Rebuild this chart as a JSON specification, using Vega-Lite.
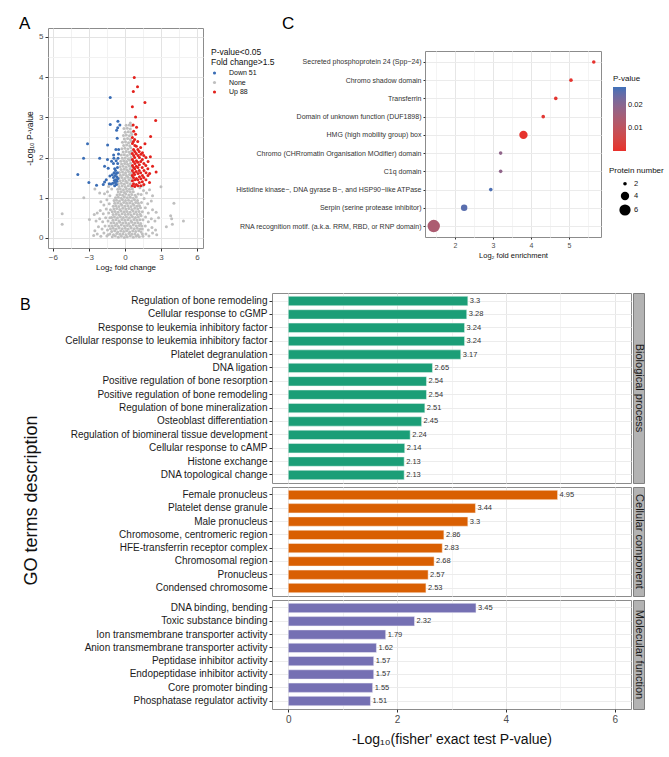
{
"$schema": "https://vega.github.io/schema/vega-lite/v6.json",
"background": "white",
"padding": {"left": 18, "top": 14, "right": 0, "bottom": 0},
"config": {
  "font": "Liberation Sans",
  "view": {"stroke": "#8c8c8c", "strokeWidth": 1},
  "axis": {"domain": false, "tickColor": "#333333", "tickSize": 3, "labelColor": "#4d4d4d", "titleColor": "#111111", "titleFontWeight": "normal", "gridColor": "#ebebeb", "grid": true, "labelFont": "Liberation Sans", "titleFont": "Liberation Sans", "labelLimit": 0},
  "legend": {"titleFontWeight": "normal", "titleColor": "#111111", "labelColor": "#111111", "titleFont": "Liberation Sans", "labelFont": "Liberation Sans"},
  "title": {"fontWeight": "normal", "color": "#000000", "font": "Liberation Sans"}
},
"datasets": {
"volcano": [
{"x":-1.05,"y":0.03,"g":"None"},{"x":-0.8,"y":0.05,"g":"None"},{"x":-0.55,"y":0.02,"g":"None"},{"x":-0.3,"y":0.04,"g":"None"},{"x":-0.05,"y":0.01,"g":"None"},{"x":0.2,"y":0.03,"g":"None"},{"x":0.45,"y":0.05,"g":"None"},{"x":0.7,"y":0.02,"g":"None"},{"x":0.95,"y":0.04,"g":"None"},{"x":1.2,"y":0.03,"g":"None"},
{"x":-1.25,"y":0.1,"g":"None"},{"x":-0.95,"y":0.08,"g":"None"},{"x":-0.68,"y":0.11,"g":"None"},{"x":-0.42,"y":0.09,"g":"None"},{"x":-0.17,"y":0.1,"g":"None"},{"x":0.08,"y":0.08,"g":"None"},{"x":0.33,"y":0.11,"g":"None"},{"x":0.58,"y":0.09,"g":"None"},{"x":0.83,"y":0.1,"g":"None"},{"x":1.08,"y":0.08,"g":"None"},
{"x":-1.1,"y":0.16,"g":"None"},{"x":-0.85,"y":0.18,"g":"None"},{"x":-0.6,"y":0.15,"g":"None"},{"x":-0.35,"y":0.17,"g":"None"},{"x":-0.1,"y":0.16,"g":"None"},{"x":0.15,"y":0.18,"g":"None"},{"x":0.4,"y":0.15,"g":"None"},{"x":0.65,"y":0.17,"g":"None"},{"x":0.9,"y":0.16,"g":"None"},{"x":1.15,"y":0.18,"g":"None"},{"x":1.35,"y":0.15,"g":"None"},
{"x":-1.2,"y":0.23,"g":"None"},{"x":-0.97,"y":0.24,"g":"None"},{"x":-0.72,"y":0.22,"g":"None"},{"x":-0.47,"y":0.25,"g":"None"},{"x":-0.22,"y":0.23,"g":"None"},{"x":0.03,"y":0.24,"g":"None"},{"x":0.28,"y":0.22,"g":"None"},{"x":0.53,"y":0.25,"g":"None"},{"x":0.78,"y":0.23,"g":"None"},{"x":1.03,"y":0.24,"g":"None"},{"x":1.28,"y":0.22,"g":"None"},
{"x":-1.05,"y":0.3,"g":"None"},{"x":-0.8,"y":0.31,"g":"None"},{"x":-0.55,"y":0.29,"g":"None"},{"x":-0.3,"y":0.32,"g":"None"},{"x":-0.05,"y":0.3,"g":"None"},{"x":0.2,"y":0.31,"g":"None"},{"x":0.45,"y":0.29,"g":"None"},{"x":0.7,"y":0.32,"g":"None"},{"x":0.95,"y":0.3,"g":"None"},{"x":1.2,"y":0.31,"g":"None"},
{"x":-1.15,"y":0.37,"g":"None"},{"x":-0.92,"y":0.38,"g":"None"},{"x":-0.67,"y":0.36,"g":"None"},{"x":-0.42,"y":0.39,"g":"None"},{"x":-0.17,"y":0.37,"g":"None"},{"x":0.08,"y":0.38,"g":"None"},{"x":0.33,"y":0.36,"g":"None"},{"x":0.58,"y":0.39,"g":"None"},{"x":0.83,"y":0.37,"g":"None"},{"x":1.08,"y":0.38,"g":"None"},{"x":1.32,"y":0.36,"g":"None"},
{"x":-1.0,"y":0.44,"g":"None"},{"x":-0.75,"y":0.45,"g":"None"},{"x":-0.5,"y":0.43,"g":"None"},{"x":-0.25,"y":0.46,"g":"None"},{"x":0.0,"y":0.44,"g":"None"},{"x":0.25,"y":0.45,"g":"None"},{"x":0.5,"y":0.43,"g":"None"},{"x":0.75,"y":0.46,"g":"None"},{"x":1.0,"y":0.44,"g":"None"},{"x":1.25,"y":0.45,"g":"None"},
{"x":-1.1,"y":0.51,"g":"None"},{"x":-0.87,"y":0.52,"g":"None"},{"x":-0.62,"y":0.5,"g":"None"},{"x":-0.37,"y":0.53,"g":"None"},{"x":-0.12,"y":0.51,"g":"None"},{"x":0.13,"y":0.52,"g":"None"},{"x":0.38,"y":0.5,"g":"None"},{"x":0.63,"y":0.53,"g":"None"},{"x":0.88,"y":0.51,"g":"None"},{"x":1.12,"y":0.52,"g":"None"},
{"x":-0.98,"y":0.58,"g":"None"},{"x":-0.73,"y":0.59,"g":"None"},{"x":-0.48,"y":0.57,"g":"None"},{"x":-0.23,"y":0.6,"g":"None"},{"x":0.02,"y":0.58,"g":"None"},{"x":0.27,"y":0.59,"g":"None"},{"x":0.52,"y":0.57,"g":"None"},{"x":0.77,"y":0.6,"g":"None"},{"x":1.02,"y":0.58,"g":"None"},{"x":1.27,"y":0.59,"g":"None"},
{"x":-1.05,"y":0.65,"g":"None"},{"x":-0.82,"y":0.66,"g":"None"},{"x":-0.57,"y":0.64,"g":"None"},{"x":-0.32,"y":0.67,"g":"None"},{"x":-0.07,"y":0.65,"g":"None"},{"x":0.18,"y":0.66,"g":"None"},{"x":0.43,"y":0.64,"g":"None"},{"x":0.68,"y":0.67,"g":"None"},{"x":0.93,"y":0.65,"g":"None"},{"x":1.18,"y":0.66,"g":"None"},
{"x":-0.92,"y":0.72,"g":"None"},{"x":-0.68,"y":0.73,"g":"None"},{"x":-0.43,"y":0.71,"g":"None"},{"x":-0.18,"y":0.74,"g":"None"},{"x":0.07,"y":0.72,"g":"None"},{"x":0.32,"y":0.73,"g":"None"},{"x":0.57,"y":0.71,"g":"None"},{"x":0.82,"y":0.74,"g":"None"},{"x":1.07,"y":0.72,"g":"None"},
{"x":-0.97,"y":0.79,"g":"None"},{"x":-0.75,"y":0.8,"g":"None"},{"x":-0.5,"y":0.78,"g":"None"},{"x":-0.25,"y":0.81,"g":"None"},{"x":0.0,"y":0.79,"g":"None"},{"x":0.25,"y":0.8,"g":"None"},{"x":0.5,"y":0.78,"g":"None"},{"x":0.75,"y":0.81,"g":"None"},{"x":1.0,"y":0.79,"g":"None"},{"x":1.22,"y":0.8,"g":"None"},
{"x":-0.85,"y":0.86,"g":"None"},{"x":-0.6,"y":0.87,"g":"None"},{"x":-0.35,"y":0.85,"g":"None"},{"x":-0.1,"y":0.88,"g":"None"},{"x":0.15,"y":0.86,"g":"None"},{"x":0.4,"y":0.87,"g":"None"},{"x":0.65,"y":0.85,"g":"None"},{"x":0.9,"y":0.88,"g":"None"},{"x":1.12,"y":0.86,"g":"None"},
{"x":-0.9,"y":0.93,"g":"None"},{"x":-0.7,"y":0.94,"g":"None"},{"x":-0.45,"y":0.92,"g":"None"},{"x":-0.2,"y":0.95,"g":"None"},{"x":0.05,"y":0.93,"g":"None"},{"x":0.3,"y":0.94,"g":"None"},{"x":0.55,"y":0.92,"g":"None"},{"x":0.8,"y":0.95,"g":"None"},{"x":1.05,"y":0.93,"g":"None"},
{"x":-0.78,"y":1.0,"g":"None"},{"x":-0.55,"y":1.01,"g":"None"},{"x":-0.3,"y":0.99,"g":"None"},{"x":-0.05,"y":1.02,"g":"None"},{"x":0.2,"y":1.0,"g":"None"},{"x":0.45,"y":1.01,"g":"None"},{"x":0.7,"y":0.99,"g":"None"},{"x":0.95,"y":1.02,"g":"None"},
{"x":-0.65,"y":1.07,"g":"None"},{"x":-0.42,"y":1.08,"g":"None"},{"x":-0.18,"y":1.06,"g":"None"},{"x":0.07,"y":1.09,"g":"None"},{"x":0.32,"y":1.07,"g":"None"},{"x":0.57,"y":1.08,"g":"None"},{"x":0.85,"y":1.06,"g":"None"},{"x":1.1,"y":1.09,"g":"None"},
{"x":-0.55,"y":1.14,"g":"None"},{"x":-0.3,"y":1.15,"g":"None"},{"x":-0.05,"y":1.13,"g":"None"},{"x":0.2,"y":1.16,"g":"None"},{"x":0.45,"y":1.14,"g":"None"},{"x":0.7,"y":1.15,"g":"None"},
{"x":-0.6,"y":1.21,"g":"None"},{"x":-0.38,"y":1.22,"g":"None"},{"x":-0.12,"y":1.2,"g":"None"},{"x":0.12,"y":1.23,"g":"None"},{"x":0.38,"y":1.21,"g":"None"},{"x":0.62,"y":1.22,"g":"None"},
{"x":-0.48,"y":1.28,"g":"None"},{"x":-0.22,"y":1.29,"g":"None"},{"x":0.03,"y":1.27,"g":"None"},{"x":0.28,"y":1.3,"g":"None"},{"x":0.52,"y":1.28,"g":"None"},
{"x":-0.55,"y":1.35,"g":"None"},{"x":-0.3,"y":1.36,"g":"None"},{"x":-0.05,"y":1.34,"g":"None"},{"x":0.2,"y":1.37,"g":"None"},{"x":0.45,"y":1.35,"g":"None"},
{"x":-0.42,"y":1.42,"g":"None"},{"x":-0.17,"y":1.43,"g":"None"},{"x":0.08,"y":1.41,"g":"None"},{"x":0.33,"y":1.44,"g":"None"},{"x":0.55,"y":1.42,"g":"None"},
{"x":-0.5,"y":1.49,"g":"None"},{"x":-0.25,"y":1.5,"g":"None"},{"x":0.0,"y":1.48,"g":"None"},{"x":0.25,"y":1.51,"g":"None"},{"x":0.48,"y":1.49,"g":"None"},
{"x":-0.38,"y":1.56,"g":"None"},{"x":-0.12,"y":1.57,"g":"None"},{"x":0.13,"y":1.55,"g":"None"},{"x":0.38,"y":1.58,"g":"None"},{"x":0.58,"y":1.56,"g":"None"},
{"x":-0.45,"y":1.63,"g":"None"},{"x":-0.2,"y":1.64,"g":"None"},{"x":0.05,"y":1.62,"g":"None"},{"x":0.3,"y":1.65,"g":"None"},{"x":0.52,"y":1.63,"g":"None"},
{"x":-0.32,"y":1.7,"g":"None"},{"x":-0.07,"y":1.71,"g":"None"},{"x":0.18,"y":1.69,"g":"None"},{"x":0.43,"y":1.72,"g":"None"},
{"x":-0.4,"y":1.77,"g":"None"},{"x":-0.15,"y":1.78,"g":"None"},{"x":0.1,"y":1.76,"g":"None"},{"x":0.35,"y":1.79,"g":"None"},{"x":0.55,"y":1.77,"g":"None"},
{"x":-0.28,"y":1.84,"g":"None"},{"x":-0.02,"y":1.85,"g":"None"},{"x":0.22,"y":1.83,"g":"None"},{"x":0.47,"y":1.86,"g":"None"},
{"x":-0.35,"y":1.91,"g":"None"},{"x":-0.1,"y":1.92,"g":"None"},{"x":0.15,"y":1.9,"g":"None"},{"x":0.4,"y":1.93,"g":"None"},
{"x":-0.22,"y":1.98,"g":"None"},{"x":0.03,"y":1.99,"g":"None"},{"x":0.28,"y":1.97,"g":"None"},{"x":0.5,"y":2.0,"g":"None"},
{"x":-0.3,"y":2.06,"g":"None"},{"x":-0.05,"y":2.07,"g":"None"},{"x":0.2,"y":2.05,"g":"None"},{"x":0.45,"y":2.08,"g":"None"},
{"x":-0.15,"y":2.14,"g":"None"},{"x":0.1,"y":2.15,"g":"None"},{"x":0.35,"y":2.13,"g":"None"},{"x":0.55,"y":2.16,"g":"None"},
{"x":-0.25,"y":2.22,"g":"None"},{"x":0.0,"y":2.23,"g":"None"},{"x":0.25,"y":2.21,"g":"None"},{"x":0.48,"y":2.24,"g":"None"},
{"x":-0.1,"y":2.3,"g":"None"},{"x":0.15,"y":2.31,"g":"None"},{"x":0.4,"y":2.29,"g":"None"},
{"x":-0.2,"y":2.38,"g":"None"},{"x":0.05,"y":2.39,"g":"None"},{"x":0.3,"y":2.37,"g":"None"},{"x":0.52,"y":2.4,"g":"None"},
{"x":-0.05,"y":2.46,"g":"None"},{"x":0.22,"y":2.47,"g":"None"},{"x":0.45,"y":2.45,"g":"None"},
{"x":-0.12,"y":2.55,"g":"None"},{"x":0.12,"y":2.56,"g":"None"},{"x":0.38,"y":2.54,"g":"None"},{"x":0.58,"y":2.57,"g":"None"},
{"x":0.02,"y":2.63,"g":"None"},{"x":0.28,"y":2.64,"g":"None"},{"x":0.5,"y":2.62,"g":"None"},
{"x":-0.08,"y":2.72,"g":"None"},{"x":0.2,"y":2.73,"g":"None"},{"x":0.45,"y":2.71,"g":"None"},
{"x":0.1,"y":2.8,"g":"None"},{"x":0.36,"y":2.81,"g":"None"},{"x":0.55,"y":2.79,"g":"None"},{"x":0.45,"y":2.86,"g":"None"},
{"x":-1.5,"y":0.05,"g":"None"},{"x":-1.75,"y":0.12,"g":"None"},{"x":-2.0,"y":0.04,"g":"None"},{"x":-2.3,"y":0.1,"g":"None"},{"x":-2.6,"y":0.06,"g":"None"},{"x":-1.45,"y":0.2,"g":"None"},{"x":-1.65,"y":0.3,"g":"None"},{"x":-1.9,"y":0.22,"g":"None"},{"x":-2.2,"y":0.28,"g":"None"},{"x":-2.5,"y":0.18,"g":"None"},
{"x":-1.4,"y":0.42,"g":"None"},{"x":-1.6,"y":0.5,"g":"None"},{"x":-1.85,"y":0.4,"g":"None"},{"x":-2.1,"y":0.48,"g":"None"},{"x":-2.4,"y":0.42,"g":"None"},{"x":-2.95,"y":0.46,"g":"None"},{"x":-1.35,"y":0.62,"g":"None"},{"x":-1.55,"y":0.72,"g":"None"},{"x":-1.8,"y":0.6,"g":"None"},{"x":-2.05,"y":0.68,"g":"None"},
{"x":-2.3,"y":0.62,"g":"None"},{"x":-2.55,"y":0.58,"g":"None"},{"x":-1.3,"y":0.85,"g":"None"},{"x":-1.5,"y":0.95,"g":"None"},{"x":-1.75,"y":0.82,"g":"None"},{"x":-2.0,"y":0.9,"g":"None"},{"x":-1.25,"y":1.05,"g":"None"},{"x":-1.45,"y":1.15,"g":"None"},{"x":-1.7,"y":1.1,"g":"None"},{"x":-2.1,"y":1.12,"g":"None"},
{"x":-2.5,"y":1.22,"g":"None"},{"x":-1.1,"y":1.22,"g":"None"},{"x":-1.35,"y":1.28,"g":"None"},{"x":-3.42,"y":1.0,"g":"None"},{"x":-1.3,"y":0.3,"g":"None"},{"x":-1.4,"y":0.08,"g":"None"},{"x":-1.25,"y":0.5,"g":"None"},{"x":-1.2,"y":0.7,"g":"None"},
{"x":1.5,"y":0.04,"g":"None"},{"x":1.75,"y":0.1,"g":"None"},{"x":2.0,"y":0.05,"g":"None"},{"x":2.3,"y":0.12,"g":"None"},{"x":2.65,"y":0.08,"g":"None"},{"x":1.45,"y":0.22,"g":"None"},{"x":1.7,"y":0.3,"g":"None"},{"x":1.95,"y":0.2,"g":"None"},{"x":2.25,"y":0.26,"g":"None"},{"x":2.55,"y":0.2,"g":"None"},
{"x":1.5,"y":0.45,"g":"None"},{"x":1.72,"y":0.52,"g":"None"},{"x":1.95,"y":0.4,"g":"None"},{"x":2.2,"y":0.48,"g":"None"},{"x":2.5,"y":0.42,"g":"None"},{"x":2.8,"y":0.5,"g":"None"},{"x":1.45,"y":0.65,"g":"None"},{"x":1.7,"y":0.75,"g":"None"},{"x":1.95,"y":0.62,"g":"None"},{"x":2.3,"y":0.7,"g":"None"},
{"x":2.6,"y":0.64,"g":"None"},{"x":1.38,"y":0.88,"g":"None"},{"x":1.6,"y":0.98,"g":"None"},{"x":1.9,"y":0.85,"g":"None"},{"x":2.2,"y":0.92,"g":"None"},{"x":1.35,"y":1.08,"g":"None"},{"x":1.55,"y":1.18,"g":"None"},{"x":1.8,"y":1.12,"g":"None"},{"x":2.05,"y":1.2,"g":"None"},{"x":2.3,"y":1.05,"g":"None"},
{"x":3.0,"y":1.27,"g":"None"},{"x":1.25,"y":1.25,"g":"None"},{"x":1.5,"y":1.3,"g":"None"},{"x":1.4,"y":0.3,"g":"None"},{"x":1.45,"y":0.1,"g":"None"},{"x":1.35,"y":0.55,"g":"None"},{"x":1.3,"y":0.75,"g":"None"},
{"x":-5.22,"y":0.6,"g":"None"},{"x":-5.22,"y":0.34,"g":"None"},{"x":4.08,"y":0.86,"g":"None"},{"x":3.81,"y":0.55,"g":"None"},{"x":3.89,"y":0.48,"g":"None"},{"x":4.87,"y":0.42,"g":"None"},{"x":3.45,"y":0.28,"g":"None"},{"x":3.95,"y":0.34,"g":"None"},
{"x":-1.22,"y":3.49,"g":"Down 51"},{"x":-0.58,"y":2.9,"g":"Down 51"},{"x":-1.22,"y":2.82,"g":"Down 51"},{"x":-0.69,"y":2.68,"g":"Down 51"},{"x":-0.6,"y":2.74,"g":"Down 51"},{"x":-0.64,"y":2.48,"g":"Down 51"},{"x":-3.11,"y":2.34,"g":"Down 51"},{"x":-1.44,"y":2.31,"g":"Down 51"},{"x":-3.44,"y":1.98,"g":"Down 51"},{"x":-2.1,"y":1.98,"g":"Down 51"},
{"x":-0.94,"y":2.06,"g":"Down 51"},{"x":-0.53,"y":2.09,"g":"Down 51"},{"x":-1.11,"y":1.91,"g":"Down 51"},{"x":-0.73,"y":1.92,"g":"Down 51"},{"x":-1.69,"y":1.78,"g":"Down 51"},{"x":-1.39,"y":1.73,"g":"Down 51"},{"x":-3.92,"y":1.58,"g":"Down 51"},{"x":-3.0,"y":1.38,"g":"Down 51"},{"x":-2.36,"y":1.31,"g":"Down 51"},{"x":-1.69,"y":1.39,"g":"Down 51"},
{"x":-1.3,"y":1.35,"g":"Down 51"},{"x":-1.15,"y":1.34,"g":"Down 51"},{"x":-1.0,"y":1.36,"g":"Down 51"},{"x":-0.85,"y":1.72,"g":"Down 51"},{"x":-0.78,"y":1.68,"g":"Down 51"},{"x":-0.9,"y":1.62,"g":"Down 51"},{"x":-0.72,"y":1.6,"g":"Down 51"},{"x":-0.82,"y":1.55,"g":"Down 51"},{"x":-0.68,"y":1.52,"g":"Down 51"},{"x":-0.95,"y":1.5,"g":"Down 51"},
{"x":-0.75,"y":1.45,"g":"Down 51"},{"x":-0.88,"y":1.43,"g":"Down 51"},{"x":-0.66,"y":1.41,"g":"Down 51"},{"x":-0.8,"y":1.38,"g":"Down 51"},{"x":-0.7,"y":1.33,"g":"Down 51"},{"x":-1.05,"y":1.57,"g":"Down 51"},{"x":-1.25,"y":1.54,"g":"Down 51"},{"x":-0.6,"y":1.85,"g":"Down 51"},{"x":-0.57,"y":1.98,"g":"Down 51"},{"x":-0.52,"y":2.2,"g":"Down 51"},
{"x":-0.95,"y":1.85,"g":"Down 51"},{"x":-1.55,"y":1.45,"g":"Down 51"},{"x":-0.62,"y":1.75,"g":"Down 51"},{"x":-0.58,"y":1.48,"g":"Down 51"},{"x":-0.92,"y":1.98,"g":"Down 51"},{"x":-0.75,"y":2.2,"g":"Down 51"},{"x":-0.42,"y":2.81,"g":"Down 51"},{"x":-0.85,"y":1.3,"g":"Down 51"},{"x":-1.45,"y":1.95,"g":"Down 51"},{"x":-1.8,"y":1.33,"g":"Down 51"},
{"x":-0.62,"y":1.62,"g":"Down 51"},
{"x":0.78,"y":3.99,"g":"Up 88"},{"x":1.05,"y":3.76,"g":"Up 88"},{"x":0.7,"y":3.64,"g":"Up 88"},{"x":0.62,"y":3.26,"g":"Up 88"},{"x":1.67,"y":3.37,"g":"Up 88"},{"x":2.56,"y":2.92,"g":"Up 88"},{"x":0.89,"y":3.01,"g":"Up 88"},{"x":2.14,"y":2.52,"g":"Up 88"},{"x":1.67,"y":2.34,"g":"Up 88"},{"x":2.12,"y":2.02,"g":"Up 88"},
{"x":2.6,"y":1.64,"g":"Up 88"},{"x":0.69,"y":2.81,"g":"Up 88"},{"x":0.89,"y":2.58,"g":"Up 88"},
{"x":0.62,"y":1.3,"g":"Up 88"},{"x":0.63,"y":1.42,"g":"Up 88"},{"x":0.61,"y":1.55,"g":"Up 88"},{"x":0.62,"y":1.68,"g":"Up 88"},{"x":0.63,"y":1.8,"g":"Up 88"},{"x":0.62,"y":1.95,"g":"Up 88"},{"x":0.61,"y":2.1,"g":"Up 88"},{"x":0.63,"y":2.35,"g":"Up 88"},{"x":0.62,"y":2.5,"g":"Up 88"},
{"x":0.72,"y":1.35,"g":"Up 88"},{"x":0.71,"y":1.5,"g":"Up 88"},{"x":0.73,"y":1.62,"g":"Up 88"},{"x":0.72,"y":1.75,"g":"Up 88"},{"x":0.71,"y":1.9,"g":"Up 88"},{"x":0.73,"y":2.05,"g":"Up 88"},{"x":0.72,"y":2.2,"g":"Up 88"},{"x":0.71,"y":2.4,"g":"Up 88"},{"x":0.73,"y":2.65,"g":"Up 88"},
{"x":0.82,"y":1.28,"g":"Up 88"},{"x":0.83,"y":1.45,"g":"Up 88"},{"x":0.81,"y":1.58,"g":"Up 88"},{"x":0.82,"y":1.72,"g":"Up 88"},{"x":0.83,"y":1.85,"g":"Up 88"},{"x":0.81,"y":2.0,"g":"Up 88"},{"x":0.82,"y":2.15,"g":"Up 88"},{"x":0.83,"y":2.3,"g":"Up 88"},{"x":0.81,"y":2.45,"g":"Up 88"},
{"x":0.95,"y":1.33,"g":"Up 88"},{"x":0.96,"y":1.48,"g":"Up 88"},{"x":0.94,"y":1.65,"g":"Up 88"},{"x":0.95,"y":1.78,"g":"Up 88"},{"x":0.96,"y":1.92,"g":"Up 88"},{"x":0.94,"y":2.1,"g":"Up 88"},{"x":0.95,"y":2.28,"g":"Up 88"},{"x":0.97,"y":2.75,"g":"Up 88"},
{"x":1.08,"y":1.3,"g":"Up 88"},{"x":1.07,"y":1.45,"g":"Up 88"},{"x":1.09,"y":1.6,"g":"Up 88"},{"x":1.08,"y":1.75,"g":"Up 88"},{"x":1.07,"y":1.88,"g":"Up 88"},{"x":1.09,"y":2.05,"g":"Up 88"},{"x":1.08,"y":2.2,"g":"Up 88"},{"x":1.07,"y":2.4,"g":"Up 88"},
{"x":1.2,"y":1.38,"g":"Up 88"},{"x":1.21,"y":1.52,"g":"Up 88"},{"x":1.19,"y":1.68,"g":"Up 88"},{"x":1.2,"y":1.82,"g":"Up 88"},{"x":1.21,"y":2.0,"g":"Up 88"},{"x":1.19,"y":2.15,"g":"Up 88"},
{"x":1.32,"y":1.3,"g":"Up 88"},{"x":1.33,"y":1.47,"g":"Up 88"},{"x":1.31,"y":1.62,"g":"Up 88"},{"x":1.32,"y":1.9,"g":"Up 88"},{"x":1.33,"y":2.08,"g":"Up 88"},{"x":1.31,"y":2.25,"g":"Up 88"},
{"x":1.45,"y":1.4,"g":"Up 88"},{"x":1.46,"y":1.55,"g":"Up 88"},{"x":1.44,"y":1.75,"g":"Up 88"},{"x":1.45,"y":1.95,"g":"Up 88"},{"x":1.46,"y":2.12,"g":"Up 88"},
{"x":1.58,"y":1.33,"g":"Up 88"},{"x":1.57,"y":1.5,"g":"Up 88"},{"x":1.59,"y":1.68,"g":"Up 88"},{"x":1.58,"y":1.85,"g":"Up 88"},{"x":1.57,"y":2.05,"g":"Up 88"},
{"x":1.75,"y":1.45,"g":"Up 88"},{"x":1.76,"y":1.62,"g":"Up 88"},{"x":1.74,"y":1.8,"g":"Up 88"},{"x":1.75,"y":2.0,"g":"Up 88"},
{"x":1.92,"y":1.55,"g":"Up 88"},{"x":1.91,"y":1.72,"g":"Up 88"},{"x":1.93,"y":1.9,"g":"Up 88"},
{"x":2.05,"y":1.38,"g":"Up 88"},{"x":2.06,"y":1.6,"g":"Up 88"},{"x":2.3,"y":1.78,"g":"Up 88"}
],
"domains": [
{"d":"Secreted phosphoprotein 24 (Spp−24)","e":5.65,"p":0.0004,"n":2},
{"d":"Chromo shadow domain","e":5.05,"p":0.0008,"n":2},
{"d":"Transferrin","e":4.65,"p":0.0012,"n":2},
{"d":"Domain of unknown function (DUF1898)","e":4.32,"p":0.0015,"n":2},
{"d":"HMG (high mobility group) box","e":3.8,"p":0.0006,"n":4},
{"d":"Chromo (CHRromatin Organisation MOdifier) domain","e":3.2,"p":0.019,"n":2},
{"d":"C1q domain","e":3.2,"p":0.019,"n":2},
{"d":"Histidine kinase−, DNA gyrase B−, and HSP90−like ATPase","e":2.94,"p":0.027,"n":2},
{"d":"Serpin (serine protease inhibitor)","e":2.24,"p":0.026,"n":3},
{"d":"RNA recognition motif. (a.k.a. RRM, RBD, or RNP domain)","e":1.44,"p":0.014,"n":7}
],
"go": [
{"t":"Regulation of bone remodeling","v":3.3,"c":"BP"},
{"t":"Cellular response to cGMP","v":3.28,"c":"BP"},
{"t":"Response to leukemia inhibitory factor","v":3.24,"c":"BP"},
{"t":"Cellular response to leukemia inhibitory factor","v":3.24,"c":"BP"},
{"t":"Platelet degranulation","v":3.17,"c":"BP"},
{"t":"DNA ligation","v":2.65,"c":"BP"},
{"t":"Positive regulation of bone resorption","v":2.54,"c":"BP"},
{"t":"Positive regulation of bone remodeling","v":2.54,"c":"BP"},
{"t":"Regulation of bone mineralization","v":2.51,"c":"BP"},
{"t":"Osteoblast differentiation","v":2.45,"c":"BP"},
{"t":"Regulation of biomineral tissue development","v":2.24,"c":"BP"},
{"t":"Cellular response to cAMP","v":2.14,"c":"BP"},
{"t":"Histone exchange","v":2.13,"c":"BP"},
{"t":"DNA topological change","v":2.13,"c":"BP"},
{"t":"Female pronucleus","v":4.95,"c":"CC"},
{"t":"Platelet dense granule","v":3.44,"c":"CC"},
{"t":"Male pronucleus","v":3.3,"c":"CC"},
{"t":"Chromosome, centromeric region","v":2.86,"c":"CC"},
{"t":"HFE-transferrin receptor complex","v":2.83,"c":"CC"},
{"t":"Chromosomal region","v":2.68,"c":"CC"},
{"t":"Pronucleus","v":2.57,"c":"CC"},
{"t":"Condensed chromosome","v":2.53,"c":"CC"},
{"t":"DNA binding, bending","v":3.45,"c":"MF"},
{"t":"Toxic substance binding","v":2.32,"c":"MF"},
{"t":"Ion transmembrane transporter activity","v":1.79,"c":"MF"},
{"t":"Anion transmembrane transporter activity","v":1.62,"c":"MF"},
{"t":"Peptidase inhibitor activity","v":1.57,"c":"MF"},
{"t":"Endopeptidase inhibitor activity","v":1.57,"c":"MF"},
{"t":"Core promoter binding","v":1.55,"c":"MF"},
{"t":"Phosphatase regulator activity","v":1.51,"c":"MF"}
]
},
"vconcat": [
{
 "hconcat": [
  {
   "width": 155, "height": 220,
   "title": {"text": "A", "anchor": "start", "frame": "group", "dx": -29, "offset": -5, "fontSize": 17},
   "data": {"name": "volcano"},
   "mark": {"type": "circle", "size": 9, "opacity": 1},
   "encoding": {
    "x": {"field": "x", "type": "quantitative", "scale": {"domain": [-6.4, 6.5], "nice": false, "zero": false},
          "axis": {"title": "Log₂ fold change", "values": [-6,-4.5,-3,-1.5,0,1.5,3,4.5,6], "labelExpr": "datum.value % 3 === 0 ? format(datum.value, 'd') : ''",
                   "tickOpacity": {"condition": {"test": "datum.value % 3 === 0", "value": 1}, "value": 0},
                   "gridColor": {"condition": {"test": "datum.value % 3 === 0", "value": "#e3e3e3"}, "value": "#f2f2f2"},
                   "labelFontSize": 8, "titleFontSize": 8, "labelPadding": 2, "titlePadding": 2}},
    "y": {"field": "y", "type": "quantitative", "scale": {"domain": [-0.25, 5.22], "nice": false, "zero": false},
          "axis": {"title": "-Log₁₀ P-value", "values": [0,0.5,1,1.5,2,2.5,3,3.5,4,4.5,5], "labelExpr": "datum.value % 1 === 0 ? format(datum.value, 'd') : ''",
                   "tickOpacity": {"condition": {"test": "datum.value % 1 === 0", "value": 1}, "value": 0},
                   "gridColor": {"condition": {"test": "datum.value % 1 === 0", "value": "#e3e3e3"}, "value": "#f2f2f2"},
                   "labelFontSize": 8, "titleFontSize": 8.5, "labelPadding": 2, "titlePadding": 4}},
    "color": {"field": "g", "type": "nominal", "scale": {"domain": ["Down 51", "None", "Up 88"], "range": ["#3a6db5", "#bfbfbf", "#e3211c"]},
              "legend": {"title": ["P-value<0.05", "Fold change>1.5"], "orient": "none", "legendX": 163, "legendY": 20, "titleFontSize": 8.5, "titleLineHeight": 10, "labelFontSize": 7, "symbolSize": 10, "symbolType": "circle", "rowPadding": 1.5, "labelOffset": 11, "titlePadding": 3}}
   }
  },
  {
   "vconcat": [
    {
     "width": 176, "height": 23,
     "data": {"values": [{"s": ""}]},
     "mark": {"type": "text"},
     "encoding": {"text": {"field": "s", "type": "nominal"}},
     "view": {"stroke": null}
    },
    {
     "width": 176, "height": 186,
     "title": {"text": "C", "anchor": "start", "frame": "group", "dx": -143, "offset": 18, "fontSize": 17},
     "data": {"name": "domains"},
     "mark": {"type": "circle", "opacity": 1},
     "encoding": {
      "y": {"field": "d", "type": "nominal", "sort": null, "scale": {"type": "point", "padding": 0.6},
            "axis": {"title": null, "labelFontSize": 7, "labelColor": "#333333", "tickSize": 2, "labelPadding": 2, "gridColor": "#ebebeb"}},
      "x": {"field": "e", "type": "quantitative", "scale": {"domain": [1.21, 5.84], "nice": false, "zero": false},
            "axis": {"title": "Log₂ fold enrichment", "values": [1.5,2,2.5,3,3.5,4,4.5,5,5.5], "labelExpr": "datum.value % 1 === 0 ? format(datum.value, 'd') : ''",
                     "tickOpacity": {"condition": {"test": "datum.value % 1 === 0", "value": 1}, "value": 0},
                     "gridColor": {"condition": {"test": "datum.value % 1 === 0", "value": "#e6e6e6"}, "value": "#f4f4f4"},
                     "labelFontSize": 7, "titleFontSize": 7.5, "tickSize": 2, "labelPadding": 2, "titlePadding": 3}},
      "color": {"field": "p", "type": "quantitative", "scale": {"domain": [0, 0.028], "range": ["#e8302b", "#3f70b8"], "interpolate": "lab"},
                "legend": {"title": "P-value", "orient": "none", "legendX": 188, "legendY": 24, "direction": "vertical", "gradientLength": 64, "gradientThickness": 13, "values": [0.01, 0.02], "format": ".2f", "titleFontSize": 8, "labelFontSize": 7.5, "titlePadding": 4}},
      "size": {"field": "n", "type": "quantitative", "scale": {"domain": [2, 7], "range": [13, 154]},
               "legend": {"title": "Protein number", "orient": "none", "legendX": 184, "legendY": 116, "values": [2, 4, 6], "symbolFillColor": "black", "symbolStrokeWidth": 0, "symbolOffset": 10, "labelOffset": 3, "titleFontSize": 8, "labelFontSize": 7.5, "rowPadding": 3.5}}
     }
    }
   ],
   "spacing": 0,
   "bounds": "flush",
   "resolve": {"legend": {"color": "independent", "size": "independent"}}
  }
 ],
 "spacing": -42,
 "resolve": {"scale": {"color": "independent", "size": "independent"}, "legend": {"color": "independent", "size": "independent"}}
},
{
 "concat": [
  {"width": 222, "height": 190, "data": {"values": [{"s": ""}]}, "mark": {"type": "text"}, "encoding": {"text": {"field": "s", "type": "nominal"}}, "view": {"stroke": null}},
  {
   "width": 359, "height": 190,
   "title": {"text": "B", "anchor": "start", "frame": "group", "dx": -252, "offset": -20, "fontSize": 16},
   "data": {"name": "go"},
   "transform": [{"filter": "datum.c === 'BP'"}],
   "encoding": {
    "y": {"field": "t", "type": "nominal", "sort": null, "scale": {"paddingInner": 0.3, "paddingOuter": 0.25},
          "axis": {"title": null, "labelFontSize": 10, "labelColor": "#1a1a1a", "labelPadding": 2, "gridColor": "#ececec"}},
    "x": {"field": "v", "type": "quantitative", "scale": {"domain": [-0.3, 6.3], "nice": false},
          "axis": {"title": null, "labels": false, "ticks": false, "values": [0,1,2,3,4,5,6],
                   "gridColor": {"condition": {"test": "datum.value % 2 === 0", "value": "#e6e6e6"}, "value": "#f3f3f3"}}}
   },
   "layer": [
    {"mark": {"type": "bar", "color": "#1b9e77", "stroke": "#e8f4f0", "strokeWidth": 0.5}},
    {"mark": {"type": "text", "align": "left", "dx": 2, "fontSize": 7.5, "color": "#333333"}, "encoding": {"text": {"field": "v", "type": "nominal"}}}
   ]
  },
  {
   "width": 11, "height": 190,
   "data": {"values": [{"s": "Biological process"}]},
   "mark": {"type": "text", "angle": 90, "fontSize": 11, "color": "#1a1a1a"},
   "encoding": {"text": {"field": "s", "type": "nominal"}},
   "view": {"fill": "#b3b3b3", "stroke": "#7f7f7f"}
  },
  {"width": 222, "height": 109, "data": {"values": [{"s": ""}]}, "mark": {"type": "text"}, "encoding": {"text": {"field": "s", "type": "nominal"}}, "view": {"stroke": null}},
  {
   "width": 359, "height": 109,
   "data": {"name": "go"},
   "transform": [{"filter": "datum.c === 'CC'"}],
   "encoding": {
    "y": {"field": "t", "type": "nominal", "sort": null, "scale": {"paddingInner": 0.3, "paddingOuter": 0.25},
          "axis": {"title": "GO terms description", "titleFontSize": 18, "titleX": -241, "titleY": 13, "titleBaseline": "middle", "labelFontSize": 10, "labelColor": "#1a1a1a", "labelPadding": 2, "gridColor": "#ececec"}},
    "x": {"field": "v", "type": "quantitative", "scale": {"domain": [-0.3, 6.3], "nice": false},
          "axis": {"title": null, "labels": false, "ticks": false, "values": [0,1,2,3,4,5,6],
                   "gridColor": {"condition": {"test": "datum.value % 2 === 0", "value": "#e6e6e6"}, "value": "#f3f3f3"}}}
   },
   "layer": [
    {"mark": {"type": "bar", "color": "#d95f02", "stroke": "#fbeee4", "strokeWidth": 0.5}},
    {"mark": {"type": "text", "align": "left", "dx": 2, "fontSize": 7.5, "color": "#333333"}, "encoding": {"text": {"field": "v", "type": "nominal"}}}
   ]
  },
  {
   "width": 11, "height": 109,
   "data": {"values": [{"s": "Cellular component"}]},
   "mark": {"type": "text", "angle": 90, "fontSize": 11, "color": "#1a1a1a"},
   "encoding": {"text": {"field": "s", "type": "nominal"}},
   "view": {"fill": "#b3b3b3", "stroke": "#7f7f7f"}
  },
  {"width": 222, "height": 109, "data": {"values": [{"s": ""}]}, "mark": {"type": "text"}, "encoding": {"text": {"field": "s", "type": "nominal"}}, "view": {"stroke": null}},
  {
   "width": 359, "height": 109,
   "data": {"name": "go"},
   "transform": [{"filter": "datum.c === 'MF'"}],
   "encoding": {
    "y": {"field": "t", "type": "nominal", "sort": null, "scale": {"paddingInner": 0.3, "paddingOuter": 0.25},
          "axis": {"title": null, "labelFontSize": 10, "labelColor": "#1a1a1a", "labelPadding": 2, "gridColor": "#ececec"}},
    "x": {"field": "v", "type": "quantitative", "scale": {"domain": [-0.3, 6.3], "nice": false},
          "axis": {"title": "-Log₁₀(fisher' exact test P-value)", "titleFontSize": 14, "titlePadding": 8, "labelFontSize": 10, "labelPadding": 2, "values": [0,1,2,3,4,5,6],
                   "labelExpr": "datum.value % 2 === 0 ? format(datum.value, 'd') : ''",
                   "tickOpacity": {"condition": {"test": "datum.value % 2 === 0", "value": 1}, "value": 0},
                   "gridColor": {"condition": {"test": "datum.value % 2 === 0", "value": "#e6e6e6"}, "value": "#f3f3f3"}}}
   },
   "layer": [
    {"mark": {"type": "bar", "color": "#7570b3", "stroke": "#f0eff7", "strokeWidth": 0.5}},
    {"mark": {"type": "text", "align": "left", "dx": 2, "fontSize": 7.5, "color": "#333333"}, "encoding": {"text": {"field": "v", "type": "nominal"}}}
   ]
  },
  {
   "width": 11, "height": 109,
   "data": {"values": [{"s": "Molecular function"}]},
   "mark": {"type": "text", "angle": 90, "fontSize": 11, "color": "#1a1a1a"},
   "encoding": {"text": {"field": "s", "type": "nominal"}},
   "view": {"fill": "#b3b3b3", "stroke": "#7f7f7f"}
  }
 ],
 "columns": 3,
 "bounds": "flush",
 "spacing": {"row": 4, "column": 2}
}
],
"spacing": 20
}
